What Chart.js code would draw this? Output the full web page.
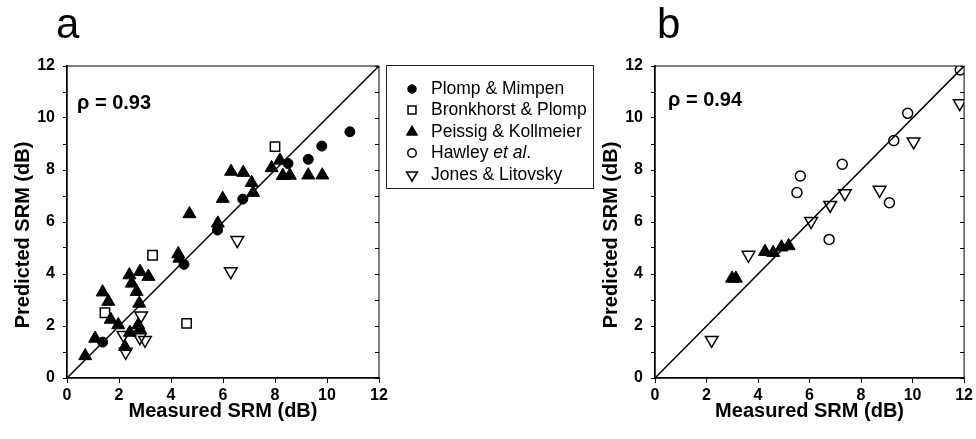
<!DOCTYPE html>
<html lang="en">
<head>
<meta charset="UTF-8">
<title>Predicted vs measured SRM</title>
<script src="https://cdn.jsdelivr.net/npm/chart.js"></script>
<style>
  body { margin: 0; background: #fff; }
  #wrap { position: relative; width: 976px; height: 439px; }
  canvas { position: absolute; top: 0; }
  #chartA { left: 0; }
  #chartB { left: 595px; }
</style>
</head>
<body>
<div id="wrap">
  <canvas id="chartA" width="595" height="439"></canvas>
  <canvas id="chartB" width="381" height="439"></canvas>
</div>
<script>
// ---- data (dB) ----
// panel a
const plompX = [1.37, 4.5, 5.79, 6.76, 8.5, 9.28, 9.8, 10.88];
const plompY = [1.38, 4.37, 5.69, 6.88, 8.25, 8.41, 8.92, 9.47];

const bronkX = [1.46, 3.29, 4.6, 8.0];
const bronkY = [2.51, 4.72, 2.1, 8.9];

const peissigAX = [0.7, 1.08, 1.37, 1.59, 1.68, 1.97, 2.23, 2.42, 2.4, 2.49, 2.81, 3.13, 2.68, 2.78, 2.74, 2.8,
                   4.28, 4.32, 4.71, 5.8, 5.99, 6.31, 6.78, 7.1, 7.16, 7.87, 8.19, 8.3, 8.57, 9.28, 9.82];
const peissigAY = [0.85, 1.52, 3.3, 2.94, 2.25, 2.04, 1.2, 1.75, 3.96, 3.64, 4.09, 3.9, 3.32, 2.87, 2.04, 1.88,
                   4.77, 4.6, 6.31, 5.95, 6.9, 7.94, 7.9, 7.51, 7.13, 8.08, 8.37, 7.78, 7.79, 7.8, 7.8];

const jonesAX = [2.17, 2.26, 2.85, 2.8, 3.0, 6.3, 6.55];
const jonesAY = [1.65, 1.0, 2.4, 1.56, 1.46, 4.1, 5.3];

// panel b
const peissigBX = [2.99, 3.14, 4.27, 4.59, 4.91, 5.19];
const peissigBY = [3.83, 3.83, 4.86, 4.82, 5.03, 5.08];

const hawleyX = [5.51, 5.64, 6.76, 7.27, 9.1, 9.27, 9.81, 11.85];
const hawleyY = [7.13, 7.77, 5.33, 8.22, 6.74, 9.13, 10.18, 11.85];

const jonesBX = [2.2, 3.63, 6.06, 6.8, 7.37, 8.72, 10.04, 11.83];
const jonesBY = [1.46, 4.73, 6.03, 6.65, 7.1, 7.23, 9.09, 10.56];

const unityLine = [0, 12];   // x = y reference line
const rhoA = 'ρ = 0.93';
const rhoB = 'ρ = 0.94';
const xTitle = 'Measured SRM (dB)';
const yTitle = 'Predicted SRM (dB)';
const legendLabels = ['Plomp & Mimpen', 'Bronkhorst & Plomp', 'Peissig & Kollmeier', 'Hawley et al.', 'Jones & Litovsky'];

const FONT = '"Liberation Sans", Arial, Helvetica, sans-serif';

const styles = {
  plomp:   { pointStyle: 'circle',   radius: 5,   rotation: 0,   fill: '#000',          border: 1 },
  bronk:   { pointStyle: 'rect',     radius: 6.6, rotation: 0,   fill: 'rgba(0,0,0,0)', border: 1.5 },
  peissig: { pointStyle: 'triangle', radius: 7.5, rotation: 0,   fill: '#000',          border: 1 },
  hawley:  { pointStyle: 'circle',   radius: 5,   rotation: 0,   fill: 'rgba(0,0,0,0)', border: 1.5 },
  jones:   { pointStyle: 'triangle', radius: 7.3, rotation: 180, fill: 'rgba(0,0,0,0)', border: 1.5 }
};
const legendStyles = [styles.plomp, styles.bronk, styles.peissig, styles.hawley, styles.jones];

function series(label, xs, ys, st) {
  return {
    type: 'scatter',
    label: label,
    data: xs.map((x, i) => ({ x: x, y: ys[i] })),
    pointStyle: st.pointStyle,
    pointRadius: st.radius,
    pointHoverRadius: st.radius,
    pointRotation: st.rotation,
    pointBackgroundColor: st.fill,
    pointBorderColor: '#000',
    pointBorderWidth: st.border
  };
}

function diagonal() {
  return {
    type: 'line',
    label: 'unity',
    data: unityLine.map(v => ({ x: v, y: v })),
    borderColor: '#000',
    borderWidth: 1.5,
    pointRadius: 0,
    order: 10
  };
}

function axes() {
  return {
    x: {
      type: 'linear', min: 0, max: 12,
      ticks: { stepSize: 2, color: '#000', font: { family: FONT, size: 16, weight: 'bold' }, padding: 3, maxRotation: 0 },
      grid: { drawOnChartArea: false, drawTicks: true, tickLength: 5, color: '#000' },
      border: { color: '#000', width: 1.5 },
      title: { display: true, text: xTitle, color: '#000',
               font: { family: FONT, size: 20, weight: 'bold' }, padding: { top: 0, bottom: 5 } },
      afterFit: s => { s.height = 50; }
    },
    y: {
      type: 'linear', min: 0, max: 12,
      ticks: { stepSize: 1, autoSkip: false, color: '#000', font: { family: FONT, size: 16, weight: 'bold' }, padding: 8,
               callback: v => (v % 2 === 0 ? v : '') },
      grid: { drawOnChartArea: false, drawTicks: true, tickLength: 4, color: '#000' },
      border: { color: '#000', width: 1.5 },
      title: { display: false },
      afterFit: s => { s.width = 60; }
    }
  };
}

// frame, right-side ticks, y title, panel letter, rho and (panel a) legend box
const panelDecor = {
  id: 'panelDecor',
  afterDraw(chart, args, o) {
    const ctx = chart.ctx;
    const a = chart.chartArea;
    const y = chart.scales.y;
    ctx.save();
    ctx.strokeStyle = '#000';
    ctx.lineWidth = 1;
    ctx.strokeRect(a.left, a.top, a.width, a.height);
    y.ticks.forEach(t => {
      const py = Math.round(y.getPixelForValue(t.value)) + 0.5;
      ctx.beginPath();
      ctx.moveTo(a.right - 4, py);
      ctx.lineTo(a.right, py);
      ctx.stroke();
    });

    // y axis title, sits a little below the plot's centre in the original
    ctx.save();
    ctx.translate(y.left + 16, 235);
    ctx.rotate(-Math.PI / 2);
    ctx.fillStyle = '#000';
    ctx.font = 'bold 20px ' + FONT;
    ctx.textAlign = 'center';
    ctx.textBaseline = 'middle';
    ctx.fillText(yTitle, 0, 0);
    ctx.restore();

    ctx.fillStyle = '#000';
    ctx.textBaseline = 'alphabetic';
    ctx.textAlign = 'left';
    ctx.font = '42px ' + FONT;
    ctx.fillText(o.letter, o.letterX, 38);

    ctx.font = 'bold 20px ' + FONT;
    ctx.textBaseline = 'middle';
    ctx.fillText(o.rho, o.rhoX, o.rhoY);

    if (o.legend) {
      const bx = 386, by = 65, bw = 207, bh = 123;
      ctx.strokeStyle = '#222';
      ctx.strokeRect(bx + 0.5, by + 0.5, bw, bh);
      const rows = [89, 110, 132, 153, 175];
      legendLabels.forEach((lab, i) => {
        const st = legendStyles[i];
        ctx.fillStyle = st.fill;
        ctx.strokeStyle = '#000';
        ctx.lineWidth = st.border;
        Chart.helpers.drawPoint(ctx, {
          pointStyle: st.pointStyle,
          radius: st.radius * 0.85,
          rotation: st.rotation,
          borderWidth: st.border
        }, 412, rows[i]);
        ctx.fillStyle = '#000';
        ctx.font = '17.5px ' + FONT;
        let tx = 431;
        const k = lab.indexOf('et al');
        if (k >= 0) {
          const pre = lab.slice(0, k);
          ctx.fillText(pre, tx, rows[i]);
          tx += ctx.measureText(pre).width;
          ctx.font = 'italic 17.5px ' + FONT;
          ctx.fillText('et al', tx, rows[i]);
          tx += ctx.measureText('et al').width;
          ctx.font = '17.5px ' + FONT;
          ctx.fillText(lab.slice(k + 5), tx, rows[i]);
        } else {
          ctx.fillText(lab, tx, rows[i]);
        }
      });
    }
    ctx.restore();
  }
};

function baseOptions(pad, decor) {
  return {
    responsive: false,
    animation: false,
    devicePixelRatio: 1,
    layout: { padding: pad },
    scales: axes(),
    plugins: {
      legend: { display: false },
      tooltip: { enabled: false },
      panelDecor: decor
    }
  };
}

new Chart(document.getElementById('chartA'), {
  data: {
    datasets: [
      diagonal(),
      series(legendLabels[0], plompX, plompY, styles.plomp),
      series(legendLabels[1], bronkX, bronkY, styles.bronk),
      series(legendLabels[2], peissigAX, peissigAY, styles.peissig),
      series(legendLabels[4], jonesAX, jonesAY, styles.jones)
    ]
  },
  options: baseOptions({ left: 7, right: 216, top: 66, bottom: 11 },
    { letter: 'a', letterX: 56, rho: rhoA, rhoX: 77, rhoY: 103, legend: true }),
  plugins: [panelDecor]
});

new Chart(document.getElementById('chartB'), {
  data: {
    datasets: [
      diagonal(),
      series(legendLabels[2], peissigBX, peissigBY, styles.peissig),
      series(legendLabels[3], hawleyX, hawleyY, styles.hawley),
      series(legendLabels[4], jonesBX, jonesBY, styles.jones)
    ]
  },
  options: baseOptions({ left: 0, right: 9, top: 66, bottom: 11 },
    { letter: 'b', letterX: 62, rho: rhoB, rhoX: 73, rhoY: 100, legend: false }),
  plugins: [panelDecor]
});
</script>
</body>
</html>
